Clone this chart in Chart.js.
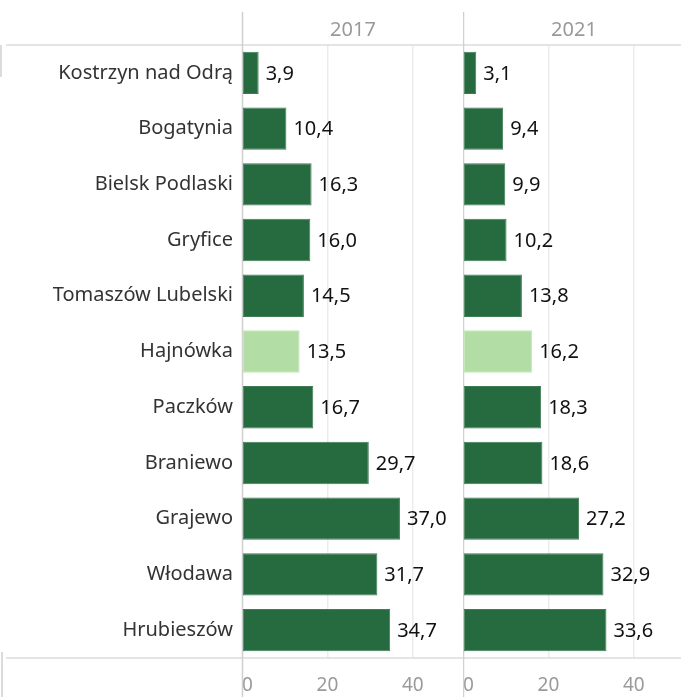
<!DOCTYPE html>
<html><head><meta charset="utf-8">
<script src="https://cdn.jsdelivr.net/npm/chart.js@4.4.1/dist/chart.umd.min.js"></script>
<style>
html,body{margin:0;padding:0;background:#fff;overflow:hidden;width:681px;height:697px;}
#wrap{position:relative;width:681px;height:697px;overflow:hidden;}
canvas{position:absolute;top:0;}
</style></head><body>
<div id="wrap">
<canvas id="c1" width="464" height="697" style="left:0;width:464px;height:697px"></canvas>
<canvas id="c2" width="222" height="697" style="left:463px;width:222px;height:697px"></canvas>
</div>
<script>
const categories = ["Kostrzyn nad Odrą","Bogatynia","Bielsk Podlaski","Gryfice","Tomaszów Lubelski","Hajnówka","Paczków","Braniewo","Grajewo","Włodawa","Hrubieszów"];
const years = ["2017","2021"];
const values2017 = [3.9,10.4,16.3,16.0,14.5,13.5,16.7,29.7,37.0,31.7,34.7];
const values2021 = [3.1,9.4,9.9,10.2,13.8,16.2,18.3,18.6,27.2,32.9,33.6];
const highlight = "Hajnówka";
const axisMax = 52;
const tickStep = 20;

const FONT = "'Noto Sans', sans-serif";
const DARK = '#256b3f';
const LIGHT = '#b2dea5';

const decorPlugin = {
  id: 'decor',
  beforeDatasetsDraw(chart, args, opts) {
    const ctx = chart.ctx, a = chart.chartArea, x = chart.scales.x;
    ctx.save();
    ctx.strokeStyle = '#dcdcdc'; ctx.lineWidth = 1.5;
    ctx.beginPath();
    ctx.moveTo(opts.lineStart, a.top); ctx.lineTo(chart.width, a.top);
    ctx.moveTo(opts.lineStart, a.bottom); ctx.lineTo(chart.width, a.bottom);
    ctx.stroke();
    const z = Math.round(x.getPixelForValue(0)) + 0.5;
    ctx.strokeStyle = '#d0d0d0'; ctx.lineWidth = 1.5;
    ctx.beginPath(); ctx.moveTo(z, 12); ctx.lineTo(z, chart.height); ctx.stroke();
    if (opts.edge) {
      ctx.beginPath();
      ctx.moveTo(1, a.top); ctx.lineTo(1, a.top + 32);
      ctx.moveTo(2, a.bottom - 6); ctx.lineTo(2, chart.height);
      ctx.stroke();
    }
    ctx.restore();
  },
  afterDatasetsDraw(chart) {
    const ctx = chart.ctx;
    const meta = chart.getDatasetMeta(0);
    const data = chart.data.datasets[0].data;
    ctx.save();
    ctx.font = '20px ' + FONT;
    ctx.fillStyle = '#111';
    ctx.textAlign = 'left'; ctx.textBaseline = 'middle';
    meta.data.forEach((el, i) => {
      ctx.fillText(data[i].toFixed(1).replace('.', ','), el.x + 7, el.y + 1);
    });
    ctx.restore();
  }
};

function makeChart(id, year, vals, showLabels) {
  return new Chart(document.getElementById(id), {
    type: 'bar',
    data: {
      labels: categories,
      datasets: [{
        data: vals,
        backgroundColor: categories.map(c => c === highlight ? LIGHT : DARK),
        borderColor: categories.map(c => c === highlight ? '#c4e6b9' : '#3f7d55'),
        borderWidth: 1,
        borderSkipped: false,
        categoryPercentage: 1,
        barPercentage: 0.76
      }]
    },
    options: {
      indexAxis: 'y',
      responsive: false,
      animation: false,
      devicePixelRatio: 1,
      layout: { padding: 0 },
      plugins: {
        legend: { display: false },
        tooltip: { enabled: false },
        title: {
          display: true, text: year, fullSize: false,
          color: '#9a9a9a', font: { family: FONT, size: 20, weight: 'normal' },
          padding: { top: 18, bottom: 3 }
        },
        decor: { lineStart: showLabels ? 6 : 0, edge: showLabels }
      },
      scales: {
        x: {
          min: 0, max: axisMax,
          border: { display: false },
          grid: {
            drawTicks: false,
            color: c => (c.tick && (c.tick.value === 0 || c.tick.value === axisMax)) ? 'rgba(0,0,0,0)' : '#ececec',
            lineWidth: 1.5
          },
          ticks: {
            stepSize: tickStep, align: 'inner', padding: 16,
            color: '#9a9a9a', font: { family: FONT, size: 19 },
            callback: v => (v === axisMax ? '' : String(v))
          },
          afterFit: s => { s.height = 39; s.paddingLeft = 0; s.paddingRight = 0; }
        },
        y: {
          display: showLabels,
          border: { display: false },
          grid: { display: false, drawTicks: false },
          ticks: { color: '#333', font: { family: FONT, size: 20 }, padding: 9 },
          afterFit: s => { if (showLabels) s.width = 242; s.paddingTop = 0; s.paddingBottom = 0; }
        }
      }
    },
    plugins: [decorPlugin]
  });
}

makeChart('c1', years[0], values2017, true);
makeChart('c2', years[1], values2021, false);
</script>
</body></html>
